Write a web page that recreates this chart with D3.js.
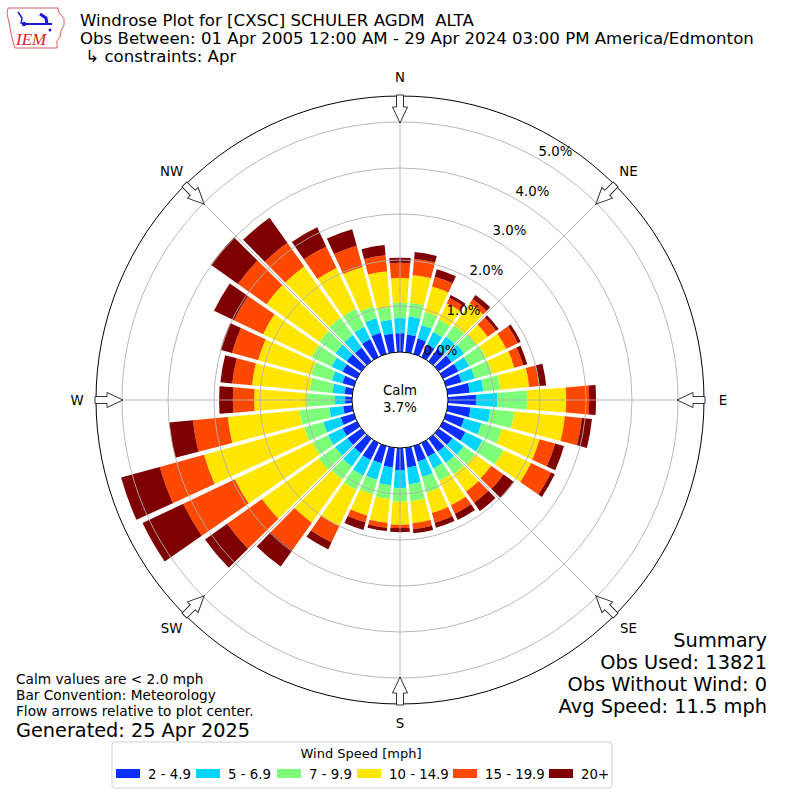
<!DOCTYPE html>
<html>
<head>
<meta charset="utf-8">
<script src="https://cdn.jsdelivr.net/npm/d3@7"></script>
<style>
  body { margin: 0; background: #fff; }
  text { font-family: "DejaVu Sans", sans-serif; fill: #000; }
</style>
</head>
<body>
<div id="chartDiv"></div>
<script>
// wind directions, 10 degree bins (meteorological, clockwise from N)
var directions = d3.range(0, 360, 10);

var speedBins = ["2 - 4.9", "5 - 6.9", "7 - 9.9", "10 - 14.9", "15 - 19.9", "20+"];
var binColors = ["#0a2eff", "#00d4ff", "#7dff7a", "#ffe600", "#ff4800", "#7f0000"];

// frequency [%] per direction, one array per speed bin
var spd2 = [0.41,0.39,0.35,0.30,0.33,0.35,0.37,0.35,0.48,0.61,0.50,0.41,0.54,0.37,0.35,0.33,0.35,0.43,
            0.48,0.43,0.39,0.41,0.39,0.37,0.35,0.30,0.20,0.15,0.17,0.26,0.35,0.39,0.37,0.43,0.48,0.41];
var spd5 = [0.33,0.39,0.30,0.30,0.33,0.33,0.26,0.30,0.30,0.46,0.43,0.39,0.41,0.30,0.30,0.28,0.35,0.37,
            0.39,0.39,0.37,0.37,0.35,0.33,0.35,0.39,0.30,0.22,0.26,0.24,0.26,0.30,0.33,0.30,0.33,0.30];
var spd7 = [0.33,0.30,0.30,0.30,0.30,0.33,0.41,0.39,0.37,0.65,0.52,0.46,0.50,0.30,0.30,0.30,0.35,0.37,
            0.30,0.30,0.33,0.35,0.35,0.43,0.37,0.43,0.65,0.61,0.50,0.46,0.48,0.43,0.46,0.43,0.26,0.28];
var spd10 = [0.54,0.61,0.57,0.39,0.59,0.30,0.48,0.50,0.63,0.85,1.11,0.85,0.67,0.43,0.46,0.59,0.46,0.48,
             0.50,0.52,0.48,0.87,1.15,1.52,1.87,2.26,1.57,1.15,1.26,1.20,1.17,1.41,1.37,0.98,0.89,0.78];
var spd15 = [0.33,0.35,0.22,0.13,0.11,0.22,0.28,0.20,0.22,0.50,0.37,0.35,0.48,0.33,0.30,0.20,0.22,0.13,
             0.07,0.11,0.15,0.39,0.74,0.93,1.24,1.00,0.76,0.46,0.43,0.59,0.70,0.76,0.63,0.52,0.48,0.35];
var spd20 = [0.11,0.15,0.17,0.07,0.11,0.07,0.07,0.09,0.15,0.15,0.22,0.20,0.09,0.28,0.22,0.15,0.11,0.09,
             0.09,0.07,0.17,0.17,0.43,0.59,0.98,0.87,0.52,0.30,0.26,0.26,0.48,0.72,0.67,0.46,0.37,0.22];

var rTicks = [0, 1, 2, 3, 4, 5];
var compass = ["N", "NE", "E", "SE", "S", "SW", "W", "NW"];
var calmPct = 3.7;

var titleLines = [
	"Windrose Plot for [CXSC] SCHULER AGDM  ALTA",
	"Obs Between: 01 Apr 2005 12:00 AM - 29 Apr 2024 03:00 PM America/Edmonton",
	" \u21b3 constraints: Apr"
];
var noteLines = ["Calm values are < 2.0 mph", "Bar Convention: Meteorology", "Flow arrows relative to plot center."];
var summaryLines = ["Summary", "Obs Used: 13821", "Obs Without Wind: 0", "Avg Speed: 11.5 mph"];
var generated = "Generated: 25 Apr 2025";

var W = 800, H = 800;
var cx = 400, cy = 400;
var rOuter = 304;

var svg = d3.select("#chartDiv").append("svg")
	.attr("width", W).attr("height", H);

// radial scale: 0% sits on the calm circle
var r = d3.scaleLinear().domain([0, 5]).range([48, 278]);
var rad = Math.PI / 180;

var plot = svg.append("g").attr("transform", "translate(" + cx + "," + cy + ")");

// outer frame
plot.append("circle").attr("r", rOuter).attr("fill", "none").attr("stroke", "#000").attr("stroke-width", 1);

// stacked bars
var series = [spd2, spd5, spd7, spd10, spd15, spd20];
var stacked = directions.map(function(d, i) {
	var acc = 0;
	return series.map(function(s, k) {
		var lo = acc;
		acc += s[i];
		return {dir: d, k: k, lo: lo, hi: acc};
	});
});

var arc = d3.arc()
	.innerRadius(function(d) { return r(d.lo); })
	.outerRadius(function(d) { return r(d.hi); })
	.startAngle(function(d) { return (d.dir - 4.6) * rad; })
	.endAngle(function(d) { return (d.dir + 4.6) * rad; })
	.padAngle(0.006).padRadius(250);

plot.append("g").selectAll("g")
	.data(stacked)
	.join("g")
	.selectAll("path")
	.data(function(d) { return d; })
	.join("path")
	.attr("d", arc)
	.attr("fill", function(d) { return binColors[d.k]; });

// grid on top
var grid = plot.append("g").attr("stroke", "#b0b0b0").attr("stroke-width", 0.9).attr("fill", "none");
grid.selectAll("circle").data(rTicks.slice(1)).join("circle").attr("r", function(d) { return r(d); });
grid.selectAll("line").data(d3.range(0, 360, 45)).join("line")
	.attr("x1", function(a) { return r(0) * Math.sin(a * rad); })
	.attr("y1", function(a) { return -r(0) * Math.cos(a * rad); })
	.attr("x2", function(a) { return rOuter * Math.sin(a * rad); })
	.attr("y2", function(a) { return -rOuter * Math.cos(a * rad); });

// calm circle
plot.append("circle").attr("r", r(0)).attr("fill", "#fff").attr("stroke", "#000").attr("stroke-width", 1);
plot.append("text").attr("text-anchor", "middle").attr("y", -5).attr("font-size", 13.3).text("Calm");
plot.append("text").attr("text-anchor", "middle").attr("y", 12).attr("font-size", 13.3).text(calmPct.toFixed(1) + "%");

// radial tick labels
plot.selectAll("text.rt").data(rTicks).join("text")
	.attr("class", "rt")
	.attr("x", function(d) { return r(d) * Math.sin(30 * rad) + 16.5; })
	.attr("y", function(d) { return -r(d) * Math.cos(30 * rad) - 8; })
	.attr("text-anchor", "middle").attr("dominant-baseline", "central")
	.attr("font-size", 13.3)
	.text(function(d) { return d.toFixed(1) + "%"; });

// flow arrows pointing to the centre
var arrowPts = [[-3.5, -305], [3.5, -305], [3.5, -293], [7.5, -293], [0, -277], [-7.5, -293], [-3.5, -293]];
plot.selectAll("polygon.arrow").data(d3.range(0, 360, 45)).join("polygon")
	.attr("class", "arrow")
	.attr("points", arrowPts.map(function(p) { return p.join(","); }).join(" "))
	.attr("transform", function(a) { return "rotate(" + a + ")"; })
	.attr("fill", "#fff").attr("stroke", "#333").attr("stroke-width", 1);

// compass labels
plot.selectAll("text.cmp").data(compass).join("text")
	.attr("class", "cmp")
	.attr("x", function(d, i) { return 323 * Math.sin(i * 45 * rad); })
	.attr("y", function(d, i) { return -323 * Math.cos(i * 45 * rad); })
	.attr("text-anchor", "middle").attr("dominant-baseline", "central")
	.attr("font-size", 13.3)
	.text(function(d) { return d; });

// logo
var logo = svg.append("g");
logo.append("path")
	.attr("d", "M8,8 L58,8 L59,13 L64,18 L64,25 L61,31 L60,37 L57,41 L57,48 L15,48 L13,42 L11,33 L9,22 L7,14 Z")
	.attr("fill", "#fff").attr("stroke", "#d33").attr("stroke-width", 0.8);
logo.append("line").attr("x1", 22).attr("y1", 24).attr("x2", 52).attr("y2", 24)
	.attr("stroke", "#1a1ad0").attr("stroke-width", 2);
logo.append("path").attr("d", "M18,12 L22,18 L21,24").attr("fill", "none").attr("stroke", "#1a1ad0").attr("stroke-width", 1.5);
logo.append("path").attr("d", "M40,14 L46,18 L47,24").attr("fill", "none").attr("stroke", "#1a1ad0").attr("stroke-width", 3);
logo.append("circle").attr("cx", 24).attr("cy", 24).attr("r", 2.2).attr("fill", "#1a1ad0");
logo.append("circle").attr("cx", 50).attr("cy", 30).attr("r", 1.5).attr("fill", "#1a1ad0");
logo.append("text").attr("x", 16).attr("y", 45)
	.style("font-family", "'Liberation Serif', serif").style("font-style", "italic").style("fill", "#d22")
	.attr("font-size", 17).text("IEM");

// title
svg.selectAll("text.title").data(titleLines).join("text")
	.attr("class", "title")
	.attr("x", 80).attr("y", function(d, i) { return 26 + i * 18; })
	.attr("font-size", 16.6)
	.style("white-space", "pre")
	.text(function(d) { return d; });

// notes bottom-left
svg.selectAll("text.note").data(noteLines).join("text")
	.attr("class", "note")
	.attr("x", 16).attr("y", function(d, i) { return 684 + i * 16; })
	.attr("font-size", 13.7)
	.text(function(d) { return d; });
svg.append("text").attr("x", 16).attr("y", 737).attr("font-size", 19.3).text(generated);

// summary bottom-right
svg.selectAll("text.sum").data(summaryLines).join("text")
	.attr("class", "sum")
	.attr("x", 767).attr("y", function(d, i) { return 647 + i * 22; })
	.attr("text-anchor", "end")
	.attr("font-size", 19.4)
	.text(function(d) { return d; });

// legend
var lg = svg.append("g");
lg.append("rect").attr("x", 112).attr("y", 742).attr("width", 500).attr("height", 46).attr("rx", 3)
	.attr("fill", "#fff").attr("stroke", "#d0d0d0").attr("stroke-width", 1);
lg.append("text").attr("x", 361).attr("y", 758).attr("text-anchor", "middle").attr("font-size", 13).text("Wind Speed [mph]");
var itemX = [116, 196, 277, 357, 453, 549];
var items = lg.selectAll("g.item").data(speedBins).join("g")
	.attr("class", "item")
	.attr("transform", function(d, i) { return "translate(" + itemX[i] + ",769)"; });
items.append("rect").attr("width", 24).attr("height", 9).attr("fill", function(d, i) { return binColors[i]; });
items.append("text").attr("x", 32).attr("y", 9.5).attr("font-size", 13.3).text(function(d) { return d; });
</script>
</body>
</html>
